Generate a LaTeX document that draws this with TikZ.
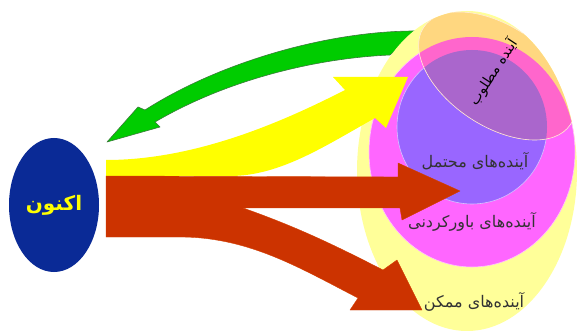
\documentclass[tikz,border=0pt]{standalone}
\usepackage{fontspec}
\usetikzlibrary{shapes.geometric}
\newfontfamily\fa[Script=Arabic]{DejaVu Sans}
\TeXXeTstate=1
\definecolor{paleyel}{HTML}{FFFF99}
\definecolor{magen}{HTML}{FF66FF}
\definecolor{purp}{HTML}{9966FF}
\definecolor{orOnYel}{HTML}{FFD780}
\definecolor{orOnMag}{HTML}{FF66CC}
\definecolor{orOnPur}{HTML}{AA66CC}
\definecolor{arrYel}{HTML}{FFFF00}
\definecolor{arrRed}{HTML}{CC3300}
\definecolor{arrGrn}{HTML}{00CC00}
\definecolor{grnLine}{HTML}{3A7A3A}
\definecolor{navy}{HTML}{0A2A96}
\definecolor{txt}{HTML}{333333}
\begin{document}
\begin{tikzpicture}[x=1pt,y=-1pt,
  lbl/.style={font=\fa\fontsize{16}{18}\selectfont, text=txt, inner sep=0pt},
  orrot/.style={rotate around={-33.5:(497,76)}}]
\useasboundingbox (0,0) rectangle (578,331);
\fill[white] (0,0) rectangle (578,331);
% green arrow (behind the sets)
\filldraw[fill=arrGrn, draw=grnLine, line width=0.6pt, line join=round]
  (420,31) .. controls (330,30) and (220,62) .. (145,110) -- (138,107) -- (107,142)
  -- (160,127) -- (155,122) .. controls (230,78) and (320,58) .. (390,55) -- cycle;
% nested sets
\fill[paleyel] (467,171) ellipse [x radius=110, y radius=160];
\filldraw[fill=magen, draw=white!60!magen, line width=0.6pt] (472,152) ellipse [x radius=103, y radius=115];
\filldraw[fill=purp, draw=white!60!purp, line width=0.6pt] (472,127) ellipse [x radius=75, y radius=77];
% desired future (translucent ellipse)
\begin{scope}
  \clip (467,171) ellipse [x radius=110, y radius=160];
  \fill[orOnYel, orrot] (497,76) ellipse [x radius=88, y radius=50];
\end{scope}
\begin{scope}
  \clip (472,152) ellipse [x radius=103, y radius=115];
  \fill[orOnMag, orrot] (497,76) ellipse [x radius=88, y radius=50];
\end{scope}
\begin{scope}
  \clip (472,127) ellipse [x radius=75, y radius=77];
  \fill[orOnPur, orrot] (497,76) ellipse [x radius=88, y radius=50];
\end{scope}
\begin{scope}
  \clip (467,171) ellipse [x radius=110, y radius=160];
  \draw[white!85!orange, line width=0.6pt, orrot] (497,76) ellipse [x radius=88, y radius=50];
\end{scope}
% yellow arrow
\fill[arrYel] (106,160) .. controls (200,160) and (290,118) .. (345,90) -- (333,77) -- (408,77)
  -- (386,128) -- (375,118) .. controls (325,146) and (280,176) .. (230,176) -- (106,176) -- cycle;
% red arrows
\filldraw[fill=arrRed, draw=arrRed!85!orange, line width=0.4pt, line join=round]
  (106,176) -- (398,177) -- (398,163) -- (460,191) -- (402,220) -- (400,208) -- (243,208)
  .. controls (300,228) and (340,248) .. (383,270) -- (397,260) -- (422,310) -- (350,310)
  -- (358,298) .. controls (300,268) and (250,238) .. (183,237) -- (106,237) -- cycle;
% now
\node[ellipse, fill=navy, minimum width=90pt, minimum height=134pt, inner sep=0pt] (now) at (54,205) {};
\node[font=\fa\bfseries\fontsize{20}{22}\selectfont, text=arrYel, inner sep=0pt] (nowt) at (now.center) {\beginR اکنون\endR};
% labels
\node[lbl, text=black, font=\fa\fontsize{14}{16}\selectfont, rotate=56.5] (des) at (493,72) {\beginR آینده مطلوب\endR};
\node[lbl] (prob) at (475,161) {\beginR آینده‌های محتمل\endR};
\node[lbl] (plau) at (472,222) {\beginR آینده‌های باورکردنی\endR};
\node[lbl] (poss) at (474,302) {\beginR آینده‌های ممکن\endR};
\end{tikzpicture}
\end{document}
